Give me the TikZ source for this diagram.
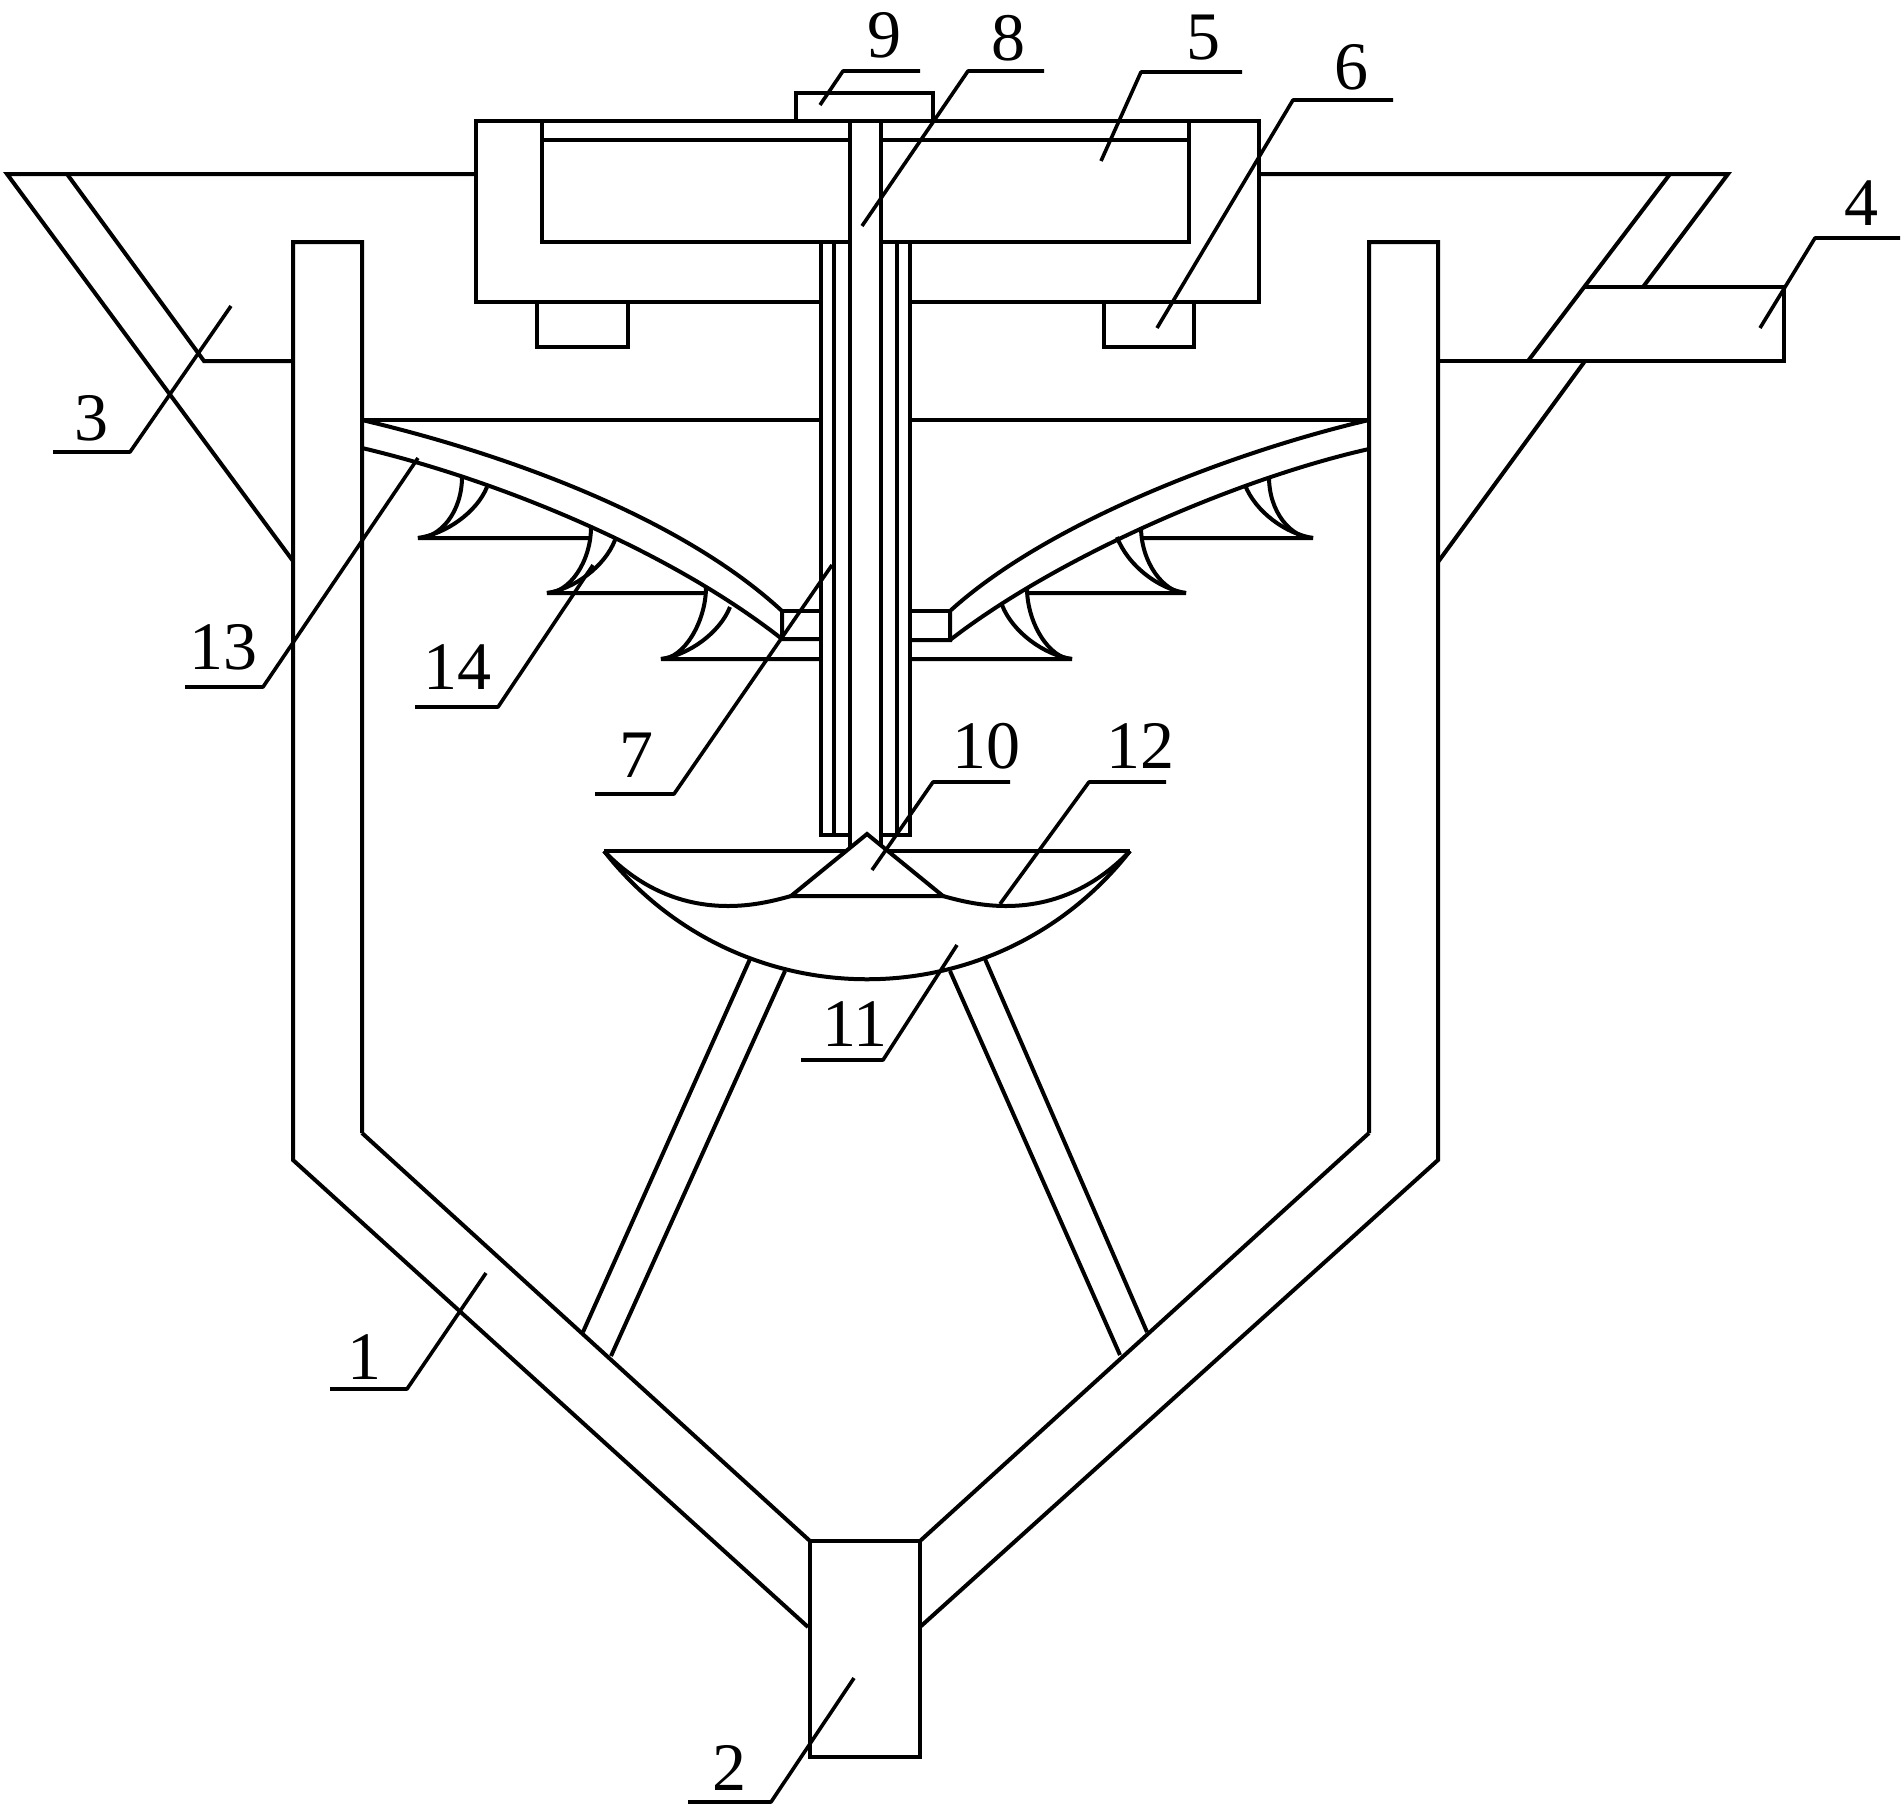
\documentclass[tikz,border=0pt]{standalone}
\usepackage{fontspec}
\setmainfont{Liberation Serif}

\begin{document}
\begin{tikzpicture}[x=1pt,y=-1pt,
    part/.style={draw,line width=4pt,line join=miter},
    leader/.style={draw,line width=3.6pt,line join=round},
    num/.style={font=\fontsize{68}{68}\selectfont,inner sep=0pt}]
  \useasboundingbox (0,0) rectangle (1904,1816);

  % tank and outlet
  \draw[part] (362,1133) -- (362,242) -- (293,242) -- (293,1160) -- (808,1627);
  \draw[part] (362,1133) -- (810,1541);
  \draw[part] (1369,1133) -- (1369,242) -- (1438,242) -- (1438,1160) -- (920,1627);
  \draw[part] (1369,1133) -- (920,1541);
  \draw[part] (810,1541) rectangle (920,1757);

  % hopper
  \draw[part] (293,561) -- (7,174) -- (476,174);
  \draw[part] (67,174) -- (204,361) -- (293,361);
  \draw[part] (1259,174) -- (1728,174) -- (1643,287);
  \draw[part] (1670,174) -- (1528,361);
  \draw[part] (1585,361) -- (1438,562);
  \draw[part] (1438,361) -- (1784,361) -- (1784,287) -- (1583,287);

  % drive box
  \draw[part] (821,302) -- (476,302) -- (476,121) -- (1259,121) -- (1259,302) -- (910,302);
  \draw[part] (542,121) -- (542,242) -- (850,242);
  \draw[part] (1189,121) -- (1189,242) -- (881,242);
  \draw[part] (542,140) -- (850,140);
  \draw[part] (881,140) -- (1189,140);
  \draw[part] (796,121) -- (796,93) -- (933,93) -- (933,121);
  \draw[part] (537,302) -- (537,347) -- (628,347) -- (628,302);
  \draw[part] (1104,302) -- (1104,347) -- (1194,347) -- (1194,302);

  % shaft and sleeves
  \draw[part] (850,121) -- (850,848);
  \draw[part] (881,121) -- (881,845);
  \draw[part] (834,242) -- (834,835);
  \draw[part] (897,242) -- (897,835);
  \draw[part] (821,242) -- (821,835) -- (850,835);
  \draw[part] (910,242) -- (910,835) -- (881,835);

  % spray arms
  \draw[part] (362,420) -- (821,420);
  \draw[part] (910,420) -- (1369,420);
  \draw[part] (362,420) .. controls (490,450) and (675,512) .. (782,611) -- (782,639) -- (821,639);
  \draw[part] (782,611) -- (821,611);
  \draw[part] (362,448) .. controls (490,478) and (665,547) .. (782,639);
  \draw[part] (1369,420) .. controls (1240,450) and (1050,520) .. (950,611) -- (950,640) -- (910,640);
  \draw[part] (950,611) -- (910,611);
  \draw[part] (1369,449) .. controls (1240,478) and (1060,555) .. (950,640);

  % nozzles
  \foreach \ax/\ay/\bx/\by/\tx/\ty/\hx in {462/477/487/487/418/538/591,
      591/527/615/540/547/593/706, 706/587/730/607/661/659/821,
      1269/477/1245/485/1313/538/1143, 1141/527/1117/537/1186/593/1027,
      1027/588/1002/605/1072/659/910} {
    \draw[part] (\ax,\ay) .. controls (\ax,\ay+35) and (\ax/2+\tx/2,\ty) .. (\tx,\ty) -- (\hx,\ty);
    \draw[part] (\bx,\by) .. controls (\bx*0.85+\tx*0.15,\by*0.5+\ty*0.5) and (\bx*0.4+\tx*0.6,\ty-4) .. (\tx,\ty);
  }

  % bowl and cone
  \draw[part] (604,851) -- (846,851);
  \draw[part] (888,851) -- (1130,851);
  \draw[part] (604,851) .. controls (738,1022) and (996,1022) .. (1130,851);
  \draw[part] (604,851) .. controls (630,878) and (670,906) .. (728,906) .. controls (750,906) and (770,902) .. (791,896);
  \draw[part] (1130,851) .. controls (1104,878) and (1064,906) .. (1006,906) .. controls (984,906) and (964,902) .. (943,896);
  \draw[part] (791,896) -- (867,834) -- (943,896) -- cycle;

  % struts
  \draw[part] (750,959) -- (583,1332);
  \draw[part] (785,971) -- (611,1356);
  \draw[part] (950,971) -- (1120,1355);
  \draw[part] (985,959) -- (1147,1332);

  % labels
  \foreach \t/\lx/\ly/\ax/\bx/\y/\ex/\ey in {1/364/1357/407/330/1389/486/1273,
      2/729/1768/771/688/1802/854/1678, 3/91/418/130/53/452/231/306,
      4/1861/203/1815/1900/238/1760/328, 5/1203/38/1141/1242/72/1101/161,
      6/1351/67/1293/1393/100/1157/328, 7/636/755/674/595/794/832/565,
      8/1008/38/968/1044/71/862/226, 9/884/35/843/920/71/820/105,
      10/986/746/933/1010/782/872/870, 11/855/1024/883/801/1060/957/945,
      12/1140/746/1089/1166/782/1000/904, 13/223/647/263/185/687/418/458,
      14/457/667/498/415/707/593/565} {
    \node[num] (n\t) at (\lx,\ly) {\t};
    \coordinate (e\t) at (\ex,\ey);
    \coordinate (a\t) at (\ax,\y);
    \coordinate (b\t) at (\bx,\y);
    \draw[leader] (e\t) -- (a\t) -- (b\t);
  }
\end{tikzpicture}
\end{document}
